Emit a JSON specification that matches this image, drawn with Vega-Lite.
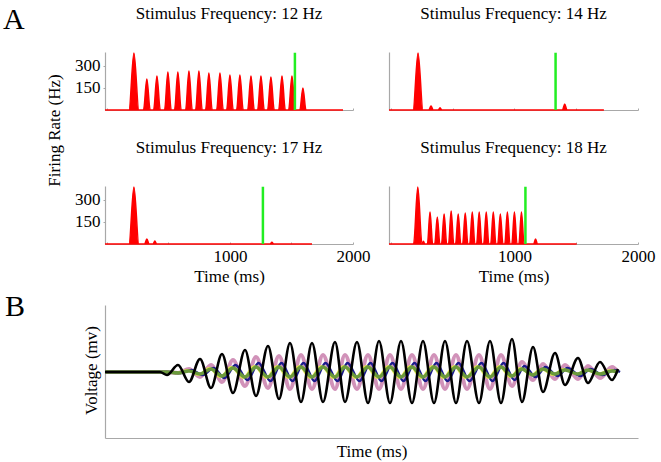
{
  "$schema": "https://vega.github.io/schema/vega-lite/v6.json",
  "autosize": "none",
  "padding": {"left": 105, "top": 52, "right": 556, "bottom": 410},
  "background": "white",
  "config": {
    "font": "Liberation Serif",
    "view": {"stroke": null},
    "axis": {"labelFont": "Liberation Serif", "titleFont": "Liberation Serif", "labelFontSize": 17, "titleFontSize": 17, "labelColor": "#000", "titleColor": "#000", "titleFontWeight": "normal", "grid": false, "domainColor": "#a8a8a8", "tickColor": "#a8a8a8", "domainWidth": 1.2},
    "title": {"font": "Liberation Serif", "fontSize": 17, "fontWeight": "normal", "color": "#000"}
  },
  "datasets": {
    "r12": [{"t":-15,"r":0},{"t":180,"r":0},{"t":220,"r":389},{"t":260,"r":0},{"t":298,"r":0},{"t":325,"r":211},{"t":352,"r":0},{"t":380,"r":0},{"t":407,"r":232},{"t":434,"r":0},{"t":469,"r":0},{"t":496,"r":259},{"t":523,"r":0},{"t":550,"r":0},{"t":577,"r":259},{"t":604,"r":0},{"t":640,"r":0},{"t":667,"r":266},{"t":694,"r":0},{"t":721,"r":0},{"t":748,"r":266},{"t":775,"r":0},{"t":802,"r":0},{"t":829,"r":252},{"t":856,"r":0},{"t":892,"r":0},{"t":919,"r":252},{"t":946,"r":0},{"t":973,"r":0},{"t":1000,"r":239},{"t":1027,"r":0},{"t":1054,"r":0},{"t":1081,"r":239},{"t":1108,"r":0},{"t":1144,"r":0},{"t":1171,"r":232},{"t":1198,"r":0},{"t":1225,"r":0},{"t":1252,"r":232},{"t":1279,"r":0},{"t":1306,"r":0},{"t":1333,"r":225},{"t":1360,"r":0},{"t":1396,"r":0},{"t":1423,"r":232},{"t":1450,"r":0},{"t":1477,"r":0},{"t":1504,"r":232},{"t":1531,"r":0},{"t":1568,"r":0},{"t":1593,"r":150},{"t":1618,"r":0},{"t":1919,"r":0}],
    "r14": [{"t":-15,"r":0},{"t":180,"r":0},{"t":220,"r":389},{"t":260,"r":0},{"t":307,"r":0},{"t":325,"r":27},{"t":343,"r":0},{"t":384,"r":0},{"t":398,"r":15},{"t":412,"r":0},{"t":1389,"r":0},{"t":1407,"r":41},{"t":1425,"r":0},{"t":1724,"r":0}],
    "r17": [{"t":-15,"r":0},{"t":180,"r":0},{"t":220,"r":389},{"t":260,"r":0},{"t":307,"r":0},{"t":325,"r":34},{"t":343,"r":0},{"t":376,"r":0},{"t":390,"r":20},{"t":404,"r":0},{"t":1327,"r":0},{"t":1341,"r":12},{"t":1355,"r":0},{"t":1667,"r":0}],
    "r18": [{"t":-15,"r":0},{"t":184,"r":0},{"t":218,"r":389},{"t":252,"r":0},{"t":254,"r":0},{"t":264,"r":18},{"t":274,"r":0},{"t":296,"r":0},{"t":317,"r":218},{"t":338,"r":0},{"t":355,"r":0},{"t":376,"r":184},{"t":397,"r":0},{"t":410,"r":0},{"t":431,"r":205},{"t":452,"r":0},{"t":467,"r":0},{"t":488,"r":225},{"t":509,"r":0},{"t":524,"r":0},{"t":545,"r":205},{"t":566,"r":0},{"t":581,"r":0},{"t":602,"r":211},{"t":623,"r":0},{"t":638,"r":0},{"t":659,"r":218},{"t":680,"r":0},{"t":694,"r":0},{"t":715,"r":218},{"t":736,"r":0},{"t":751,"r":0},{"t":772,"r":218},{"t":793,"r":0},{"t":808,"r":0},{"t":829,"r":218},{"t":850,"r":0},{"t":865,"r":0},{"t":886,"r":205},{"t":907,"r":0},{"t":922,"r":0},{"t":943,"r":218},{"t":964,"r":0},{"t":979,"r":0},{"t":1000,"r":218},{"t":1021,"r":0},{"t":1036,"r":0},{"t":1057,"r":218},{"t":1078,"r":0},{"t":1156,"r":0},{"t":1171,"r":34},{"t":1186,"r":0},{"t":1504,"r":0}],
    "volt": [
      {"s":"k","t":0,"v":0},{"s":"k","t":110,"v":0},{"s":"k","t":124,"v":-3},{"s":"k","t":146,"v":7},{"s":"k","t":168,"v":-10},{"s":"k","t":190,"v":13},{"s":"k","t":212,"v":-16},{"s":"k","t":234,"v":18},{"s":"k","t":256,"v":-21},{"s":"k","t":280,"v":22},{"s":"k","t":302,"v":-24},{"s":"k","t":326,"v":26},{"s":"k","t":348,"v":-27},{"s":"k","t":370,"v":29},{"s":"k","t":392,"v":-30},{"s":"k","t":414,"v":29},{"s":"k","t":436,"v":-30},{"s":"k","t":460,"v":30},{"s":"k","t":480,"v":-30},{"s":"k","t":504,"v":30},{"s":"k","t":526,"v":-31},{"s":"k","t":548,"v":31},{"s":"k","t":570,"v":-31},{"s":"k","t":592,"v":31},{"s":"k","t":614,"v":-31},{"s":"k","t":636,"v":31},{"s":"k","t":658,"v":-31},{"s":"k","t":680,"v":31},{"s":"k","t":702,"v":-31},{"s":"k","t":724,"v":31},{"s":"k","t":748,"v":-31},{"s":"k","t":770,"v":31},{"s":"k","t":792,"v":-31},{"s":"k","t":814,"v":33},{"s":"k","t":834,"v":-30},{"s":"k","t":856,"v":25},{"s":"k","t":876,"v":-20},{"s":"k","t":900,"v":19},{"s":"k","t":920,"v":-13},{"s":"k","t":946,"v":14},{"s":"k","t":966,"v":-11},{"s":"k","t":990,"v":10},{"s":"k","t":1014,"v":-8},{"s":"k","t":1026,"v":3},
      {"s":"p","t":0,"v":0},{"s":"p","t":110,"v":0},{"s":"p","t":124,"v":0},{"s":"p","t":146,"v":-1},{"s":"p","t":168,"v":3},{"s":"p","t":190,"v":-5},{"s":"p","t":212,"v":7},{"s":"p","t":234,"v":-10},{"s":"p","t":256,"v":12},{"s":"p","t":280,"v":-14},{"s":"p","t":302,"v":15},{"s":"p","t":326,"v":-16},{"s":"p","t":348,"v":16},{"s":"p","t":370,"v":-17},{"s":"p","t":392,"v":17},{"s":"p","t":414,"v":-17},{"s":"p","t":436,"v":17},{"s":"p","t":460,"v":-17},{"s":"p","t":480,"v":17},{"s":"p","t":504,"v":-17},{"s":"p","t":526,"v":17},{"s":"p","t":548,"v":-17},{"s":"p","t":570,"v":17},{"s":"p","t":592,"v":-17},{"s":"p","t":614,"v":17},{"s":"p","t":636,"v":-17},{"s":"p","t":658,"v":17},{"s":"p","t":680,"v":-17},{"s":"p","t":702,"v":17},{"s":"p","t":724,"v":-17},{"s":"p","t":748,"v":17},{"s":"p","t":770,"v":-17},{"s":"p","t":792,"v":17},{"s":"p","t":814,"v":-14},{"s":"p","t":834,"v":10},{"s":"p","t":856,"v":-8},{"s":"p","t":876,"v":8},{"s":"p","t":900,"v":-7},{"s":"p","t":920,"v":7},{"s":"p","t":946,"v":-7},{"s":"p","t":966,"v":6},{"s":"p","t":990,"v":-6},{"s":"p","t":1014,"v":5},{"s":"p","t":1026,"v":0},
      {"s":"b","t":0,"v":0},{"s":"b","t":115,"v":0},{"s":"b","t":129,"v":0},{"s":"b","t":151,"v":-1},{"s":"b","t":173,"v":2},{"s":"b","t":195,"v":-3},{"s":"b","t":217,"v":4},{"s":"b","t":239,"v":-6},{"s":"b","t":261,"v":7},{"s":"b","t":285,"v":-8},{"s":"b","t":307,"v":9},{"s":"b","t":331,"v":-9},{"s":"b","t":353,"v":9},{"s":"b","t":375,"v":-9},{"s":"b","t":397,"v":9},{"s":"b","t":419,"v":-9},{"s":"b","t":441,"v":9},{"s":"b","t":465,"v":-9},{"s":"b","t":485,"v":9},{"s":"b","t":509,"v":-9},{"s":"b","t":531,"v":9},{"s":"b","t":553,"v":-9},{"s":"b","t":575,"v":9},{"s":"b","t":597,"v":-9},{"s":"b","t":619,"v":9},{"s":"b","t":641,"v":-9},{"s":"b","t":663,"v":9},{"s":"b","t":685,"v":-9},{"s":"b","t":707,"v":9},{"s":"b","t":729,"v":-9},{"s":"b","t":753,"v":9},{"s":"b","t":775,"v":-9},{"s":"b","t":797,"v":9},{"s":"b","t":819,"v":-8},{"s":"b","t":839,"v":6},{"s":"b","t":861,"v":-5},{"s":"b","t":881,"v":5},{"s":"b","t":905,"v":-4},{"s":"b","t":925,"v":4},{"s":"b","t":951,"v":-4},{"s":"b","t":971,"v":3},{"s":"b","t":995,"v":-3},{"s":"b","t":1019,"v":2},{"s":"b","t":1030,"v":0},
      {"s":"y","t":0,"v":0},{"s":"y","t":106,"v":0},{"s":"y","t":120,"v":0},{"s":"y","t":142,"v":-1},{"s":"y","t":164,"v":2},{"s":"y","t":186,"v":-3},{"s":"y","t":208,"v":4},{"s":"y","t":230,"v":-5},{"s":"y","t":252,"v":5},{"s":"y","t":276,"v":-6},{"s":"y","t":298,"v":6},{"s":"y","t":322,"v":-6},{"s":"y","t":344,"v":6},{"s":"y","t":366,"v":-6},{"s":"y","t":388,"v":6},{"s":"y","t":410,"v":-6},{"s":"y","t":432,"v":6},{"s":"y","t":456,"v":-6},{"s":"y","t":476,"v":6},{"s":"y","t":500,"v":-6},{"s":"y","t":522,"v":6},{"s":"y","t":544,"v":-6},{"s":"y","t":566,"v":6},{"s":"y","t":588,"v":-6},{"s":"y","t":610,"v":6},{"s":"y","t":632,"v":-6},{"s":"y","t":654,"v":6},{"s":"y","t":676,"v":-6},{"s":"y","t":698,"v":6},{"s":"y","t":720,"v":-6},{"s":"y","t":744,"v":6},{"s":"y","t":766,"v":-6},{"s":"y","t":788,"v":6},{"s":"y","t":810,"v":-5},{"s":"y","t":830,"v":4},{"s":"y","t":852,"v":-3},{"s":"y","t":872,"v":3},{"s":"y","t":896,"v":-3},{"s":"y","t":916,"v":3},{"s":"y","t":942,"v":-2},{"s":"y","t":962,"v":2},{"s":"y","t":986,"v":-2},{"s":"y","t":1010,"v":2},{"s":"y","t":1026,"v":0},
      {"s":"g","t":0,"v":0},{"s":"g","t":110,"v":0},{"s":"g","t":124,"v":0},{"s":"g","t":146,"v":-1},{"s":"g","t":168,"v":1},{"s":"g","t":190,"v":-2},{"s":"g","t":212,"v":3},{"s":"g","t":234,"v":-4},{"s":"g","t":256,"v":4},{"s":"g","t":280,"v":-5},{"s":"g","t":302,"v":5},{"s":"g","t":326,"v":-5},{"s":"g","t":348,"v":5},{"s":"g","t":370,"v":-5},{"s":"g","t":392,"v":5},{"s":"g","t":414,"v":-5},{"s":"g","t":436,"v":5},{"s":"g","t":460,"v":-5},{"s":"g","t":480,"v":5},{"s":"g","t":504,"v":-5},{"s":"g","t":526,"v":5},{"s":"g","t":548,"v":-5},{"s":"g","t":570,"v":5},{"s":"g","t":592,"v":-5},{"s":"g","t":614,"v":5},{"s":"g","t":636,"v":-5},{"s":"g","t":658,"v":5},{"s":"g","t":680,"v":-5},{"s":"g","t":702,"v":5},{"s":"g","t":724,"v":-5},{"s":"g","t":748,"v":5},{"s":"g","t":770,"v":-5},{"s":"g","t":792,"v":5},{"s":"g","t":814,"v":-4},{"s":"g","t":834,"v":3},{"s":"g","t":856,"v":-3},{"s":"g","t":876,"v":3},{"s":"g","t":900,"v":-2},{"s":"g","t":920,"v":2},{"s":"g","t":946,"v":-2},{"s":"g","t":966,"v":2},{"s":"g","t":990,"v":-2},{"s":"g","t":1014,"v":1},{"s":"g","t":1026,"v":0}
    ]
  },
  "bounds": "flush",
  "spacing": 253,
  "vconcat": [
    {
      "bounds": "flush",
      "spacing": 134,
      "title": {"text": "A", "anchor": "start", "frame": "group", "fontSize": 30, "dx": -102, "dy": 50, "offset": -4, "baseline": "alphabetic"},
      "vconcat": [
        {
          "bounds": "flush",
          "spacing": 36,
          "hconcat": [
            {
              "width": 248, "height": 58,
              "title": {"text": "Stimulus Frequency: 12 Hz", "baseline": "alphabetic", "offset": 14},
              "layer": [
                {"data": {"name": "r12"}, "mark": {"type": "area", "color": "#ff0000", "stroke": "#ff0000", "strokeWidth": 1.5, "interpolate": "monotone"},
                 "encoding": {
                   "x": {"field": "t", "type": "quantitative", "scale": {"domain": [-15, 2000], "nice": false}, "axis": {"values": [0,62.5,125,187.5,250,312.5,375,437.5,500,562.5,625,687.5,750,812.5,875,937.5,1000,1062.5,1125,1187.5,1250,1312.5,1375,1437.5,1500,1562.5,1625,1687.5,1750,1812.5,1875,1937.5,2000], "labels": false, "title": null, "tickSize": -2}},
                   "y": {"field": "r", "type": "quantitative", "scale": {"domain": [0, 395], "nice": false}, "axis": {"values": [150, 300], "tickSize": 2, "labelPadding": 3, "title": "Firing Rate (Hz)", "titleX": -46, "titleY": 78, "titleAngle": -90, "titleAlign": "center", "titleBaseline": "alphabetic"}}
                 }},
                {"data": {"values": [{"t": 1528}]}, "mark": {"type": "rule", "color": "#22ee22", "strokeWidth": 2.5},
                 "encoding": {"x": {"field": "t", "type": "quantitative", "scale": {"domain": [-15, 2000], "nice": false}}, "y": {"datum": 0, "scale": {"domain": [0, 395], "nice": false}}, "y2": {"datum": 390}}}
              ]
            },
            {
              "width": 249, "height": 58,
              "title": {"text": "Stimulus Frequency: 14 Hz", "baseline": "alphabetic", "offset": 14},
              "layer": [
                {"data": {"name": "r14"}, "mark": {"type": "area", "color": "#ff0000", "stroke": "#ff0000", "strokeWidth": 1.5, "interpolate": "monotone"},
                 "encoding": {
                   "x": {"field": "t", "type": "quantitative", "scale": {"domain": [-15, 2000], "nice": false}, "axis": {"values": [0,62.5,125,187.5,250,312.5,375,437.5,500,562.5,625,687.5,750,812.5,875,937.5,1000,1062.5,1125,1187.5,1250,1312.5,1375,1437.5,1500,1562.5,1625,1687.5,1750,1812.5,1875,1937.5,2000], "labels": false, "title": null, "tickSize": -2}},
                   "y": {"field": "r", "type": "quantitative", "scale": {"domain": [0, 395], "nice": false}, "axis": {"labels": false, "ticks": false, "title": null}}
                 }},
                {"data": {"values": [{"t": 1333}]}, "mark": {"type": "rule", "color": "#22ee22", "strokeWidth": 2.5},
                 "encoding": {"x": {"field": "t", "type": "quantitative", "scale": {"domain": [-15, 2000], "nice": false}}, "y": {"datum": 0, "scale": {"domain": [0, 395], "nice": false}}, "y2": {"datum": 390}}}
              ]
            }
          ]
        },
        {
          "bounds": "flush",
          "spacing": 36,
          "hconcat": [
            {
              "width": 248, "height": 58,
              "title": {"text": "Stimulus Frequency: 17 Hz", "baseline": "alphabetic", "offset": 14},
              "layer": [
                {"data": {"name": "r17"}, "mark": {"type": "area", "color": "#ff0000", "stroke": "#ff0000", "strokeWidth": 1.5, "interpolate": "monotone"},
                 "encoding": {
                   "x": {"field": "t", "type": "quantitative", "scale": {"domain": [-15, 2000], "nice": false}, "axis": {"values": [0,62.5,125,187.5,250,312.5,375,437.5,500,562.5,625,687.5,750,812.5,875,937.5,1000,1062.5,1125,1187.5,1250,1312.5,1375,1437.5,1500,1562.5,1625,1687.5,1750,1812.5,1875,1937.5,2000], "labelExpr": "datum.value == 1000 || datum.value == 2000 ? format(datum.value, 'd') : ''", "labelOverlap": false, "labelFlush": false, "labelPadding": 6, "tickSize": -2, "title": "Time (ms)", "titleY": 37, "titleBaseline": "alphabetic"}},
                   "y": {"field": "r", "type": "quantitative", "scale": {"domain": [0, 395], "nice": false}, "axis": {"values": [150, 300], "tickSize": 2, "labelPadding": 3, "title": null}}
                 }},
                {"data": {"values": [{"t": 1268}]}, "mark": {"type": "rule", "color": "#22ee22", "strokeWidth": 2.5},
                 "encoding": {"x": {"field": "t", "type": "quantitative", "scale": {"domain": [-15, 2000], "nice": false}}, "y": {"datum": 0, "scale": {"domain": [0, 395], "nice": false}}, "y2": {"datum": 390}}}
              ]
            },
            {
              "width": 249, "height": 58,
              "title": {"text": "Stimulus Frequency: 18 Hz", "baseline": "alphabetic", "offset": 14},
              "layer": [
                {"data": {"name": "r18"}, "mark": {"type": "area", "color": "#ff0000", "stroke": "#ff0000", "strokeWidth": 1.5, "interpolate": "monotone"},
                 "encoding": {
                   "x": {"field": "t", "type": "quantitative", "scale": {"domain": [-15, 2000], "nice": false}, "axis": {"values": [0,62.5,125,187.5,250,312.5,375,437.5,500,562.5,625,687.5,750,812.5,875,937.5,1000,1062.5,1125,1187.5,1250,1312.5,1375,1437.5,1500,1562.5,1625,1687.5,1750,1812.5,1875,1937.5,2000], "labelExpr": "datum.value == 1000 || datum.value == 2000 ? format(datum.value, 'd') : ''", "labelOverlap": false, "labelFlush": false, "labelPadding": 6, "tickSize": -2, "title": "Time (ms)", "titleY": 37, "titleBaseline": "alphabetic"}},
                   "y": {"field": "r", "type": "quantitative", "scale": {"domain": [0, 395], "nice": false}, "axis": {"labels": false, "ticks": false, "title": null}}
                 }},
                {"data": {"values": [{"t": 1089}]}, "mark": {"type": "rule", "color": "#22ee22", "strokeWidth": 2.5},
                 "encoding": {"x": {"field": "t", "type": "quantitative", "scale": {"domain": [-15, 2000], "nice": false}}, "y": {"datum": 0, "scale": {"domain": [0, 395], "nice": false}}, "y2": {"datum": 390}}}
              ]
            }
          ]
        }
      ]
    },
    {
      "width": 533, "height": 133,
      "title": {"text": "B", "anchor": "start", "frame": "group", "fontSize": 30, "dx": -100, "dy": 29, "offset": -12, "baseline": "alphabetic"},
      "data": {"name": "volt"},
      "encoding": {
        "x": {"field": "t", "type": "quantitative", "scale": {"domain": [0, 1066], "nice": false}, "axis": {"labels": false, "ticks": false, "title": "Time (ms)", "titleY": 18, "titleBaseline": "alphabetic"}},
        "y": {"field": "v", "type": "quantitative", "scale": {"domain": [-66, 67], "nice": false}, "axis": {"labels": false, "ticks": false, "title": "Voltage (mv)", "titleX": -9, "titleY": 65, "titleAngle": -90, "titleAlign": "center", "titleBaseline": "alphabetic"}}
      },
      "layer": [
        {"transform": [{"filter": "datum.s == 'p'"}], "mark": {"type": "line", "color": "#c97fad", "opacity": 0.85, "strokeWidth": 4, "interpolate": "monotone"}},
        {"transform": [{"filter": "datum.s == 'b'"}], "mark": {"type": "line", "color": "#1a1a8c", "strokeWidth": 2.5, "interpolate": "monotone"}},
        {"transform": [{"filter": "datum.s == 'y'"}], "mark": {"type": "line", "color": "#e6e64a", "strokeWidth": 2, "interpolate": "monotone"}},
        {"transform": [{"filter": "datum.s == 'g'"}], "mark": {"type": "line", "color": "#6b9a3c", "strokeWidth": 3.5, "interpolate": "monotone"}},
        {"transform": [{"filter": "datum.s == 'k'"}], "mark": {"type": "line", "color": "#000000", "strokeWidth": 2.6, "interpolate": "monotone"}},
        {"data": {"values": [{"t": 814}]}, "mark": {"type": "rule", "color": "#22ee22", "strokeWidth": 2.5},
         "encoding": {"x": {"field": "t", "type": "quantitative", "scale": {"domain": [0, 1066], "nice": false}}, "y": {"datum": -48, "scale": {"domain": [-66, 67], "nice": false}}, "y2": {"datum": 49}}}
      ]
    }
  ]
}
